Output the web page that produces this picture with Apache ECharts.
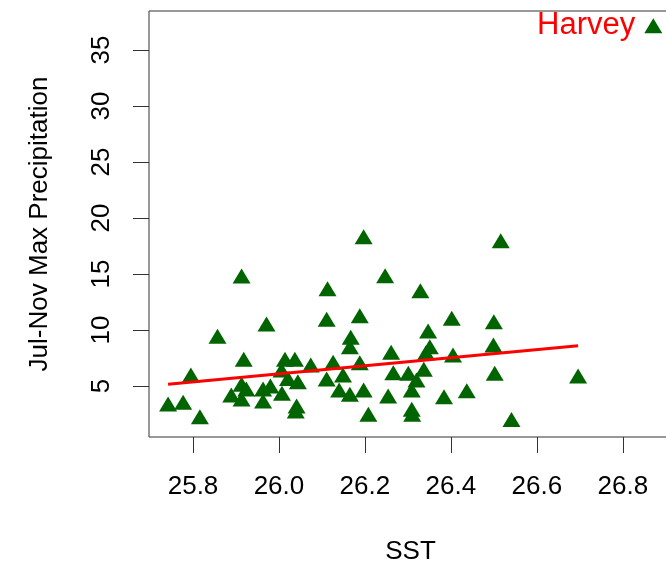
<!DOCTYPE html>
<html>
<head>
<meta charset="utf-8">
<script src="https://cdn.jsdelivr.net/npm/echarts@6/dist/echarts.min.js"></script>
<style>
html,body{margin:0;padding:0;background:#fff;}
#chart{width:666px;height:566px;}
</style>
</head>
<body>
<div id="chart"></div>
<script>
// Sea-surface temperature (x) for each season
const sst = [
  26.197, 26.247, 25.913, 26.113, 26.329, 26.516, 25.971, 26.111, 26.188, 26.402,
  26.500, 26.347, 25.857, 26.167, 26.165, 26.342, 26.351, 26.261, 26.405, 26.499,
  25.918, 26.014, 26.037, 26.074, 26.126, 26.188, 25.795, 26.006, 26.021, 26.044,
  26.149, 26.111, 26.266, 26.301, 26.337, 26.320, 26.502, 26.696, 25.913, 25.924,
  25.889, 25.913, 25.963, 25.980, 25.963, 26.007, 26.140, 26.165, 26.197, 26.254,
  26.309, 26.384, 26.437, 25.742, 25.777, 25.816, 26.041, 26.039, 26.208, 26.309,
  26.310, 26.541
];
// Jul-Nov maximum precipitation (y)
const precip = [
  18.11, 14.63, 14.60, 13.46, 13.29, 17.75, 10.31, 10.73, 11.05, 10.82,
  10.52, 9.69, 9.21, 9.13, 8.29, 7.75, 8.29, 7.79, 7.54, 8.44,
  7.16, 7.16, 7.16, 6.65, 6.89, 6.86, 5.76, 6.21, 5.46, 5.16,
  5.76, 5.40, 5.96, 5.91, 6.27, 5.31, 5.91, 5.67, 4.93, 4.51,
  3.97, 3.62, 4.51, 4.78, 3.44, 4.13, 4.42, 4.04, 4.42, 3.88,
  4.42, 3.82, 4.36, 3.17, 3.32, 2.04, 2.99, 2.54, 2.25, 2.70,
  2.25, 1.80
];
// Highlighted outlier
const harveyName = "Harvey";
const harveySST = [26.871];
const harveyPrecip = [36.94];
// Fitted regression line end points
const fitX = [25.742, 26.696];
const fitY = [5.15, 8.60];
// Tick values
const xTicks = [25.8, 26.0, 26.2, 26.4, 26.6, 26.8];
const yTicks = [5, 10, 15, 20, 25, 30, 35];

const FONT = "'Liberation Sans', Arial, sans-serif";
const pts = sst.map((x, i) => [x, precip[i]]);
const hv = harveySST.map((x, i) => [x, harveyPrecip[i]]);
const fit = fitX.map((x, i) => [x, fitY[i]]);

const chart = echarts.init(document.getElementById('chart'), null, {renderer: 'canvas'});
chart.setOption({
  animation: false,
  backgroundColor: '#ffffff',
  grid: {
    left: 149, top: 11, bottom: 129, right: -6,
    containLabel: false, outerBoundsMode: 'none',
    show: true, borderColor: '#333', borderWidth: 1, backgroundColor: 'transparent'
  },
  xAxis: {
    type: 'value', min: 25.6976, max: 26.9145,
    name: 'SST', nameLocation: 'middle', nameGap: 102,
    nameTextStyle: {fontFamily: FONT, fontSize: 26, color: '#000'},
    axisLine: {show: false},
    splitLine: {show: false},
    axisTick: {show: true, customValues: xTicks, length: 16, lineStyle: {color: '#333', width: 1}},
    axisLabel: {customValues: xTicks, margin: 37, fontFamily: FONT, fontSize: 26, color: '#000',
      formatter: v => Number(v).toFixed(1)}
  },
  yAxis: {
    type: 'value', min: 0.45, max: 38.48,
    name: 'Jul-Nov Max Precipitation', nameLocation: 'middle', nameGap: 96, nameRotate: 90,
    nameTextStyle: {fontFamily: FONT, fontSize: 26, color: '#000'},
    axisLine: {show: false},
    splitLine: {show: false},
    axisTick: {show: true, customValues: yTicks, length: 16, lineStyle: {color: '#333', width: 1}},
    axisLabel: {customValues: yTicks, rotate: 90, margin: 34, fontFamily: FONT, fontSize: 26, color: '#000'}
  },
  series: [
    {
      type: 'scatter', data: pts, symbol: 'triangle', symbolSize: [18, 15], symbolOffset: [0, -2.5],
      itemStyle: {color: '#006400', opacity: 1}, z: 2
    },
    {
      type: 'scatter', data: hv, symbol: 'triangle', symbolSize: [18, 15], symbolOffset: [0, -2.5],
      itemStyle: {color: '#006400', opacity: 1}, z: 2,
      label: {show: true, position: 'left', distance: 9, formatter: harveyName, opacity: 1,
        fontFamily: FONT, fontSize: 31, color: '#ff0000'}
    },
    {
      type: 'line', data: fit, symbol: 'none', lineStyle: {color: '#ff0000', width: 3}, z: 3
    }
  ]
});
</script>
</body>
</html>
